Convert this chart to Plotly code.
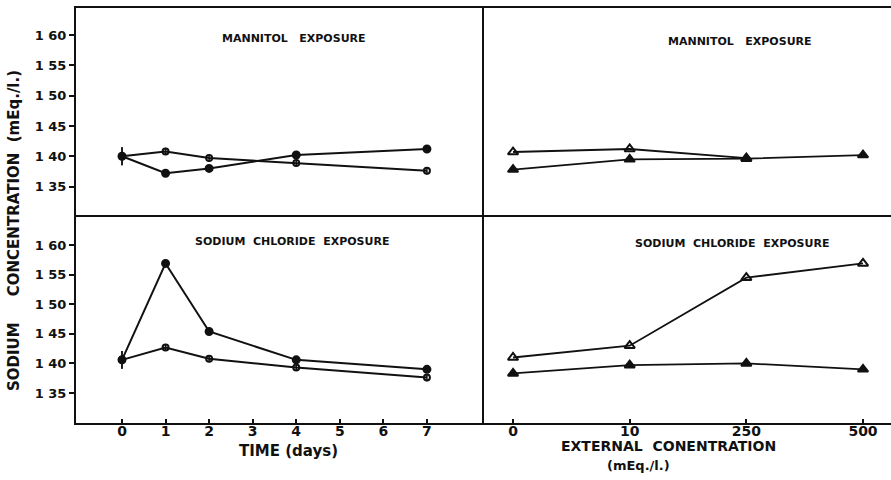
import plotly.graph_objects as go

# Time course (days) -- plasma sodium, mEq/l
days = [0, 1, 2, 4, 7]
mannitol_closed = [140.0, 137.2, 138.0, 140.2, 141.2]
mannitol_open = [140.0, 140.8, 139.7, 138.9, 137.6]
nacl_closed = [140.6, 156.9, 145.4, 140.6, 139.0]
nacl_open = [140.6, 142.7, 140.8, 139.3, 137.6]
err_closed = [1.5, 0.5, 0.5, 0.4, 0.4]
err_open = [1.5, 0.6, 0.6, 0.6, 0.6]

# External concentration (mEq/l)
conc = ["0", "10", "250", "500"]
mann_conc_open = [140.7, 141.2, 139.7]
mann_conc_closed = [137.8, 139.5, 139.6, 140.2]
nacl_conc_open = [141.0, 143.0, 154.5, 156.9]
nacl_conc_closed = [138.3, 139.7, 140.0, 139.0]

y_ticks = [135, 140, 145, 150, 155, 160]
y_ticktext = ["1 35", "1 40", "1 45", "1 50", "1 55", "1 60"]
day_ticks = [0, 1, 2, 3, 4, 5, 6, 7]

INK = "#111111"
FONT = "DejaVu Sans"
line = dict(color=INK, width=2)

fig = go.Figure()


def time_series(x, y, err, filled, xa, ya):
    fig.add_trace(go.Scatter(
        x=x, y=y, xaxis=xa, yaxis=ya, mode="lines+markers",
        line=line,
        marker=dict(symbol="circle" if filled else "circle-open",
                    size=7 if filled else 6, color=INK,
                    line=dict(color=INK, width=2)),
        error_y=dict(type="data", array=err, color=INK, thickness=1.5, width=0),
        showlegend=False, cliponaxis=False))


def conc_series(x, y, filled, xa, ya):
    fig.add_trace(go.Scatter(
        x=x, y=y, xaxis=xa, yaxis=ya, mode="lines+markers",
        line=dict(color=INK, width=1.8),
        marker=dict(symbol="triangle-up" if filled else "triangle-up-open",
                    size=9, color=INK, line=dict(color=INK, width=2)),
        showlegend=False, cliponaxis=False))


# top-left: mannitol over time
time_series(days, mannitol_closed, err_closed, True, "x3", "y3")
time_series(days, mannitol_open, err_open, False, "x3", "y3")
# bottom-left: sodium chloride over time
time_series(days, nacl_closed, err_closed, True, "x", "y")
time_series(days, nacl_open, err_open, False, "x", "y")
# top-right: mannitol vs external concentration
conc_series(conc[:3], mann_conc_open, False, "x4", "y4")
conc_series(conc, mann_conc_closed, True, "x4", "y4")
# bottom-right: sodium chloride vs external concentration
conc_series(conc, nacl_conc_open, False, "x2", "y2")
conc_series(conc, nacl_conc_closed, True, "x2", "y2")

split_x = 0.5006
split_y = 0.501
axis_common = dict(showgrid=False, zeroline=False, showline=True,
                   linecolor=INK, linewidth=2)
tickfont_x = dict(family=FONT, size=14, color=INK, weight="bold")
tickfont_y = dict(family=FONT, size=13, color=INK, weight="bold")

left_range = [-1.056, 8.31]
right_range = [-0.249, 3.24]
top_range = [130.3, 164.45]
bot_range = [129.93, 165.07]

fig.update_layout(
    width=891, height=480,
    margin=dict(l=76, r=0, t=8, b=57),
    paper_bgcolor="white", plot_bgcolor="white",
    font=dict(family=FONT, color=INK),
    xaxis=dict(domain=[0, split_x], anchor="y", range=left_range,
               tickvals=day_ticks, ticks="inside", ticklen=4, tickwidth=1.5,
               tickcolor=INK, tickfont=tickfont_x, ticklabelstandoff=-6,
               **axis_common),
    xaxis2=dict(domain=[split_x, 1], anchor="y2", type="category",
                categoryorder="array", categoryarray=conc, range=right_range,
                ticks="inside", ticklen=4, tickwidth=1.5, tickcolor=INK,
                tickfont=tickfont_x, ticklabelstandoff=-6, **axis_common),
    xaxis3=dict(domain=[0, split_x], anchor="y3", range=left_range,
                showticklabels=False, mirror=True, **axis_common),
    xaxis4=dict(domain=[split_x, 1], anchor="y4", type="category",
                categoryorder="array", categoryarray=conc, range=right_range,
                showticklabels=False, mirror=True, **axis_common),
    yaxis=dict(domain=[0, split_y], anchor="x", range=bot_range,
               tickvals=y_ticks, ticktext=y_ticktext, ticks="outside",
               ticklen=5, tickwidth=1.5, tickcolor=INK, tickfont=tickfont_y,
               **axis_common),
    yaxis2=dict(domain=[0, split_y], anchor="x2", range=bot_range,
                showticklabels=False, **axis_common),
    yaxis3=dict(domain=[split_y, 1], anchor="x3", range=top_range,
                tickvals=y_ticks, ticktext=y_ticktext, ticks="outside",
                ticklen=5, tickwidth=1.5, tickcolor=INK, tickfont=tickfont_y,
                **axis_common),
    yaxis4=dict(domain=[split_y, 1], anchor="x4", range=top_range,
                showticklabels=False, **axis_common),
)

sp = "\u00a0"
panel_font = dict(family=FONT, size=11, color=INK, weight="bold")
panel_titles = [
    ("MANNITOL" + sp * 3 + "EXPOSURE", "x3 domain", "y3 domain", 0.534, 0.855),
    ("MANNITOL" + sp * 3 + "EXPOSURE", "x4 domain", "y4 domain", 0.629, 0.836),
    ("SODIUM" + sp * 2 + "CHLORIDE" + sp * 2 + "EXPOSURE", "x domain", "y domain", 0.529, 0.875),
    ("SODIUM" + sp * 2 + "CHLORIDE" + sp * 2 + "EXPOSURE", "x2 domain", "y2 domain", 0.609, 0.865),
]
for text, xr, yr, px, py in panel_titles:
    fig.add_annotation(text=text, xref=xr, yref=yr, x=px, y=py,
                       showarrow=False, font=panel_font,
                       xanchor="center", yanchor="middle")

fig.add_annotation(text="TIME" + sp + "(days)", xref="paper", yref="paper",
                   x=0.2613, y=-0.0675, showarrow=False,
                   font=dict(family=FONT, size=15, color=INK, weight="bold"),
                   xanchor="center", yanchor="middle")
fig.add_annotation(text="EXTERNAL" + sp * 2 + "CONENTRATION", xref="paper",
                   yref="paper", x=0.7276, y=-0.055, showarrow=False,
                   font=dict(family=FONT, size=14, color=INK, weight="bold"),
                   xanchor="center", yanchor="middle")
fig.add_annotation(text="(mEq./l.)", xref="paper", yref="paper",
                   x=0.69, y=-0.1036, showarrow=False,
                   font=dict(family=FONT, size=13, color=INK, weight="bold"),
                   xanchor="center", yanchor="middle")
fig.add_annotation(text="SODIUM" + sp * 5 + "CONCENTRATION" + sp * 2 + "(mEq./l.)",
                   xref="paper", yref="paper", x=-0.0761, y=0.465,
                   textangle=-90, showarrow=False,
                   font=dict(family=FONT, size=15, color=INK, weight="bold"),
                   xanchor="center", yanchor="middle")

fig.write_html("out.html")
